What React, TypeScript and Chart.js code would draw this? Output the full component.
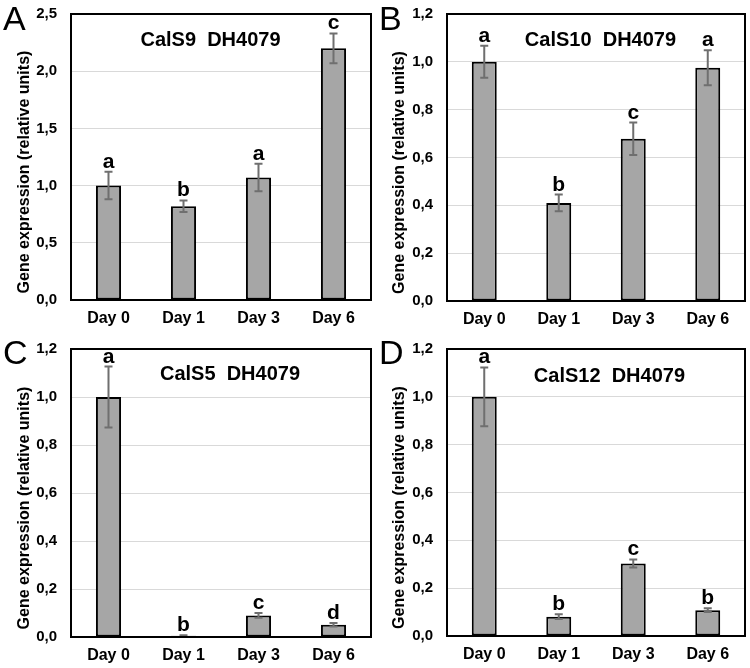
import React, { useEffect, useRef } from 'react';
import { Chart, registerables } from 'chart.js';

Chart.register(...registerables);

const FONT = '"Liberation Sans", Arial, sans-serif';

const dayLabels = ['Day 0', 'Day 1', 'Day 3', 'Day 6'];
const yAxisTitle = 'Gene expression (relative units)';

// Panel A – CalS9
const calS9Means = [1.0, 0.82, 1.07, 2.2];
const calS9Errors = [0.12, 0.05, 0.12, 0.13];
const calS9Letters = ['a', 'b', 'a', 'c'];
const calS9Ticks = ['0,0', '0,5', '1,0', '1,5', '2,0', '2,5'];

// Panel B – CalS10
const calS10Means = [1.0, 0.41, 0.678, 0.975];
const calS10Errors = [0.067, 0.035, 0.068, 0.073];
const calS10Letters = ['a', 'b', 'c', 'a'];

// Panel C – CalS5
const calS5Means = [1.0, 0.005, 0.09, 0.051];
const calS5Errors = [0.127, 0.002, 0.01, 0.007];
const calS5Letters = ['a', 'b', 'c', 'd'];

// Panel D – CalS12
const calS12Means = [1.0, 0.081, 0.303, 0.108];
const calS12Errors = [0.123, 0.01, 0.017, 0.008];
const calS12Letters = ['a', 'b', 'c', 'b'];

const smallTicks = ['0,0', '0,2', '0,4', '0,6', '0,8', '1,0', '1,2'];

type PanelSpec = {
  letter: string;
  title: string;
  means: number[];
  errors: number[];
  sig: string[];
  ticks: string[];
  yMax: number;
  step: number;
  left: number;
  top: number;
  plotLeft: number;
  padTop: number;
  padRight: number;
  xHeight: number;
  titleFrac: number;
  titleY: number;
  letterX: number;
};

const panels: PanelSpec[] = [
  {
    letter: 'A', title: 'CalS9  DH4079', means: calS9Means, errors: calS9Errors, sig: calS9Letters,
    ticks: calS9Ticks, yMax: 2.5, step: 0.5,
    left: 0, top: 0, plotLeft: 71, padTop: 14, padRight: 4, xHeight: 34, titleFrac: 0.465, titleY: 40, letterX: 3,
  },
  {
    letter: 'B', title: 'CalS10  DH4079', means: calS10Means, errors: calS10Errors, sig: calS10Letters,
    ticks: smallTicks, yMax: 1.2, step: 0.2,
    left: 375, top: 0, plotLeft: 72, padTop: 14, padRight: 5, xHeight: 33, titleFrac: 0.515, titleY: 40, letterX: 4,
  },
  {
    letter: 'C', title: 'CalS5  DH4079', means: calS5Means, errors: calS5Errors, sig: calS5Letters,
    ticks: smallTicks, yMax: 1.2, step: 0.2,
    left: 0, top: 334, plotLeft: 71, padTop: 15, padRight: 4, xHeight: 31, titleFrac: 0.53, titleY: 40, letterX: 3,
  },
  {
    letter: 'D', title: 'CalS12  DH4079', means: calS12Means, errors: calS12Errors, sig: calS12Letters,
    ticks: smallTicks, yMax: 1.2, step: 0.2,
    left: 375, top: 334, plotLeft: 72, padTop: 15, padRight: 5, xHeight: 32, titleFrac: 0.545, titleY: 42, letterX: 4,
  },
];

function makeDecor(spec: PanelSpec) {
  return {
    id: 'decor' + spec.letter,
    afterDatasetsDraw(chart: any) {
      const ctx = chart.ctx as CanvasRenderingContext2D;
      const area = chart.chartArea;
      const yScale = chart.scales.y;
      const meta = chart.getDatasetMeta(0);
      ctx.save();
      // error bars
      ctx.strokeStyle = '#6f6f6f';
      ctx.lineWidth = 2;
      spec.means.forEach((m, i) => {
        const x = meta.data[i].x;
        const yT = yScale.getPixelForValue(m + spec.errors[i]);
        const yB = yScale.getPixelForValue(Math.max(0, m - spec.errors[i]));
        ctx.beginPath();
        ctx.moveTo(x, yT);
        ctx.lineTo(x, yB);
        ctx.moveTo(x - 4, yT);
        ctx.lineTo(x + 4, yT);
        ctx.moveTo(x - 4, yB);
        ctx.lineTo(x + 4, yB);
        ctx.stroke();
      });
      // frame
      ctx.strokeStyle = '#000';
      ctx.lineWidth = 2;
      ctx.strokeRect(area.left, area.top, area.right - area.left, area.bottom - area.top);
      // significance letters
      ctx.fillStyle = '#000';
      ctx.font = 'bold 21px ' + FONT;
      ctx.textAlign = 'center';
      ctx.textBaseline = 'alphabetic';
      spec.means.forEach((m, i) => {
        const x = meta.data[i].x;
        const yT = yScale.getPixelForValue(m + spec.errors[i]);
        ctx.fillText(spec.sig[i], x, yT - 4);
      });
      // title
      ctx.font = 'bold 20px ' + FONT;
      ctx.textBaseline = 'middle';
      ctx.fillText(spec.title, area.left + (area.right - area.left) * spec.titleFrac, spec.titleY);
      // panel letter
      ctx.font = '34px ' + FONT;
      ctx.textAlign = 'left';
      ctx.textBaseline = 'alphabetic';
      ctx.fillText(spec.letter, spec.letterX, 30);
      // y axis title
      ctx.font = 'bold 16px ' + FONT;
      ctx.textAlign = 'center';
      ctx.textBaseline = 'middle';
      ctx.translate(25, (area.top + area.bottom) / 2 + 15);
      ctx.rotate(-Math.PI / 2);
      ctx.fillText(yAxisTitle, 0, 0);
      ctx.restore();
    },
  };
}

function Panel({ spec }: { spec: PanelSpec }) {
  const ref = useRef<HTMLCanvasElement>(null);
  useEffect(() => {
    const chart = new Chart(ref.current as HTMLCanvasElement, {
      type: 'bar',
      data: {
        labels: dayLabels,
        datasets: [
          {
            data: spec.means,
            backgroundColor: '#a6a6a6',
            borderColor: '#000',
            borderWidth: 2,
            borderSkipped: false,
            categoryPercentage: 1,
            barPercentage: 0.335,
          },
        ],
      },
      options: {
        responsive: false,
        animation: false,
        devicePixelRatio: 1,
        layout: { padding: { left: 0, top: spec.padTop, right: spec.padRight, bottom: 0 } },
        plugins: { legend: { display: false }, tooltip: { enabled: false } },
        scales: {
          x: {
            grid: { display: false, drawTicks: false },
            border: { display: false },
            ticks: { color: '#000', font: { family: FONT, size: 16, weight: 'bold' }, padding: 9, maxRotation: 0 },
            afterFit: (s: any) => { s.height = spec.xHeight; },
          },
          y: {
            min: 0,
            max: spec.yMax,
            grid: { color: '#d9d9d9', lineWidth: 1, drawTicks: true, tickLength: 14, tickColor: 'rgba(0,0,0,0)' },
            border: { display: false },
            ticks: {
              stepSize: spec.step,
              color: '#000',
              font: { family: FONT, size: 15, weight: 'bold' },
              padding: 0,
              callback: (_v: any, i: number) => spec.ticks[i],
            },
            afterFit: (s: any) => { s.width = spec.plotLeft; },
          },
        },
      } as any,
      plugins: [makeDecor(spec)],
    });
    return () => chart.destroy();
  }, []);
  return (
    <canvas
      ref={ref}
      width={375}
      height={334}
      style={{ position: 'absolute', left: spec.left, top: spec.top, width: 375, height: 334 }}
    />
  );
}

export default function App() {
  return (
    <div style={{ position: 'absolute', left: 0, top: 0, width: 750, height: 668, background: '#fff' }}>
      {panels.map((p) => (
        <Panel key={p.letter} spec={p} />
      ))}
    </div>
  );
}
